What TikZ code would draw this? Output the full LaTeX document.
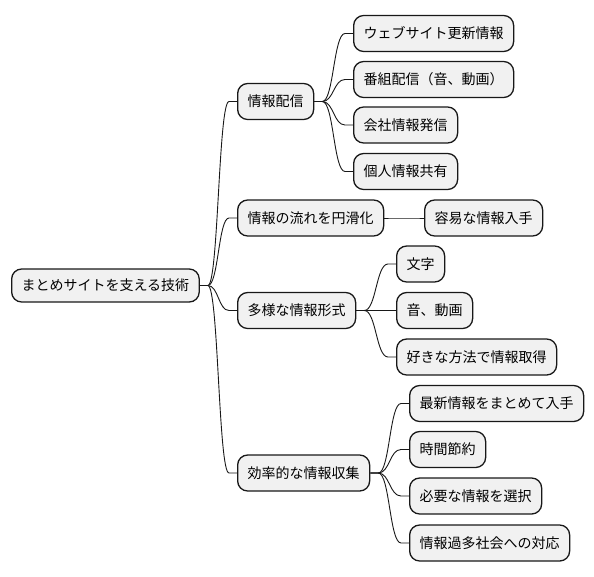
\documentclass[tikz,border=0pt]{standalone}
\usepackage{fontspec}
\setmainfont{Noto Sans CJK JP}
\usetikzlibrary{calc}
\definecolor{boxfill}{HTML}{F1F1F1}
\definecolor{boxline}{HTML}{181818}
\tikzset{
  mmbox/.style={draw=boxline, fill=boxfill, line width=1.3pt, rounded corners=10pt,
    minimum height=36pt, inner xsep=10pt, inner ysep=0pt, font=\fontsize{14pt}{16pt}\selectfont, anchor=west},
  mmlink/.style={draw=boxline, line width=0.9pt}
}
\newcommand\mmconnect[2]{%
  \path (#1.east) ++(8,0) coordinate (s-#2);
  \path (#2.west) ++(-8,0) coordinate (t-#2);
  \path ($(s-#2)!0.5!(t-#2)$) coordinate (m-#2);
  \draw[mmlink] (#1.east) -- (s-#2) .. controls (m-#2 |- s-#2) and (m-#2 |- t-#2) .. (t-#2) -- (#2.west);
}
\begin{document}
\begin{tikzpicture}[x=1pt,y=-1pt]
\path[use as bounding box] (0,0) rectangle (594,576);
\node[mmbox, minimum height=33pt] (root) at (11,285.5) {まとめサイトを支える技術};
\node[mmbox] (A) at (237,101.5) {情報配信};
\node[mmbox] (A1) at (353,33.5) {ウェブサイト更新情報};
\node[mmbox] (A2) at (353,79.5) {番組配信（音、動画）};
\node[mmbox] (A3) at (353,125) {会社情報発信};
\node[mmbox] (A4) at (353,171.5) {個人情報共有};
\node[mmbox] (B) at (237,218) {情報の流れを円滑化};
\node[mmbox] (B1) at (424,218) {容易な情報入手};
\node[mmbox] (C) at (237,310.5) {多様な情報形式};
\node[mmbox] (C1) at (396,264) {文字};
\node[mmbox] (C2) at (396,310.5) {音、動画};
\node[mmbox] (C3) at (396,357) {好きな方法で情報取得};
\node[mmbox] (D) at (237,473) {効率的な情報収集};
\node[mmbox] (D1) at (409,403.5) {最新情報をまとめて入手};
\node[mmbox] (D2) at (409,449.5) {時間節約};
\node[mmbox] (D3) at (409,496) {必要な情報を選択};
\node[mmbox] (D4) at (409,543) {情報過多社会への対応};
\mmconnect{root}{A}
\mmconnect{root}{B}
\mmconnect{root}{C}
\mmconnect{root}{D}
\mmconnect{A}{A1}
\mmconnect{A}{A2}
\mmconnect{A}{A3}
\mmconnect{A}{A4}
\mmconnect{B}{B1}
\mmconnect{C}{C1}
\mmconnect{C}{C2}
\mmconnect{C}{C3}
\mmconnect{D}{D1}
\mmconnect{D}{D2}
\mmconnect{D}{D3}
\mmconnect{D}{D4}
\end{tikzpicture}
\end{document}
